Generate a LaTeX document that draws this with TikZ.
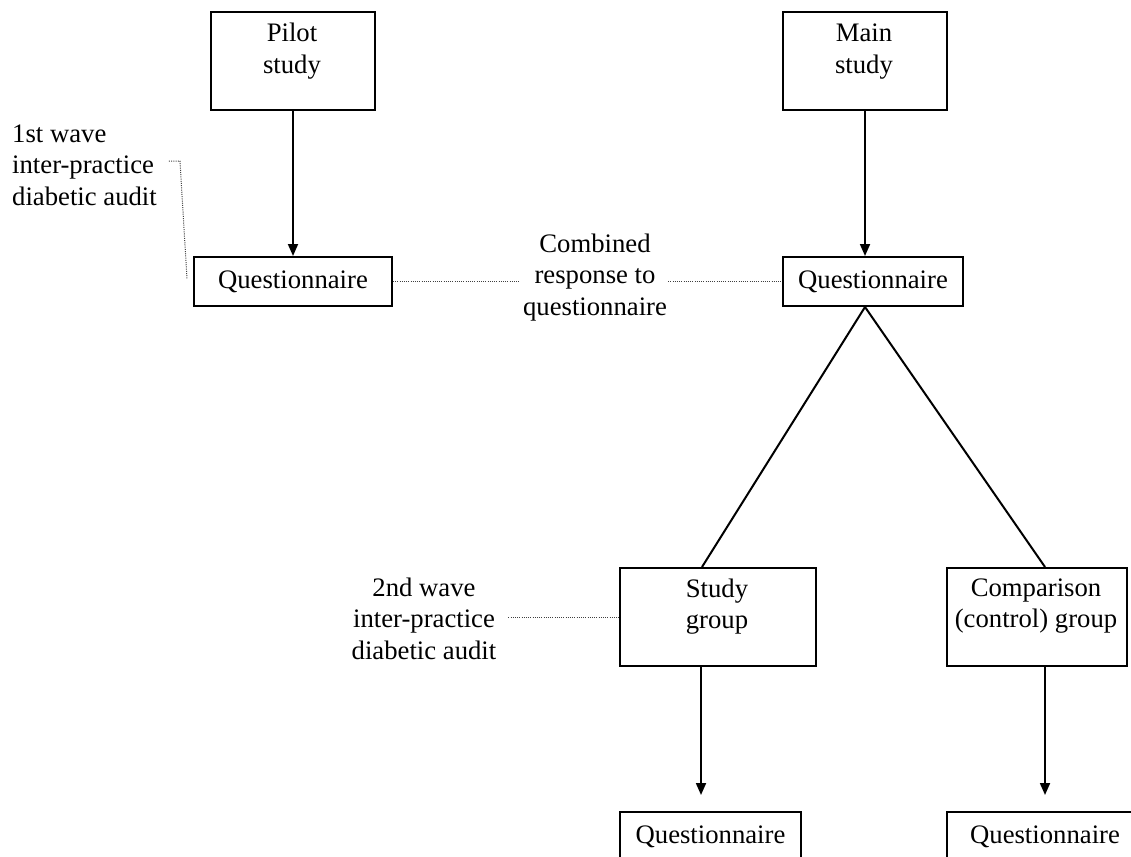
\documentclass[tikz,border=0pt]{standalone}
\usepackage{fontspec}
\setmainfont{Liberation Serif}
\usetikzlibrary{arrows.meta,calc}
\newcommand\diafont{\fontsize{26.7pt}{31.7pt}\selectfont}
\begin{document}
\begin{tikzpicture}[x=1pt,y=-1pt,
  box/.style={draw, line width=2pt, inner sep=0pt, anchor=north west, font=\diafont},
  lbl/.style={font=\diafont, inner sep=0pt, align=center},
  arr/.style={line width=1.8pt, -{Triangle[width=10pt,length=12pt]}},
  link/.style={line width=2pt},
  dots/.style={line width=1pt, black!75, dash pattern=on 1pt off 1.2pt}]
\useasboundingbox (0,0) rectangle (1131,856);
\clip (0,0) rectangle (1131,856);
\fill[white] (0,0) rectangle (1131,856);

% boxes (multi-line texts anchored at the baseline of their last line)
\node[box, minimum width=164pt, minimum height=98pt] (pilot) at (210,11) {};
\node[lbl, anchor=base] (pilotT) at (292,73.7) {Pilot\\study};
\node[box, minimum width=164pt, minimum height=98pt] (main) at (782,11) {};
\node[lbl, anchor=base] (mainT) at (864,73.7) {Main\\study};

\node[box, minimum width=198pt, minimum height=49pt] (q1) at (193,256) {Questionnaire};
\node[box, minimum width=180pt, minimum height=49pt] (q2) at (782,256) {Questionnaire};

\node[box, minimum width=196pt, minimum height=98pt] (sg) at (619,567) {};
\node[lbl, anchor=base] (sgT) at (717,628.7) {Study\\group};
\node[box, minimum width=180pt, minimum height=98pt] (cg) at (946,567) {};
\node[lbl, anchor=base] (cgT) at (1036,627.7) {Comparison\\(control) group};

\node[box, minimum width=181pt, minimum height=49pt] (q3) at (619,811) {Questionnaire};
\node[box, minimum width=196pt, minimum height=49pt] (q4) at (946,811) {Questionnaire};

% labels
\node[lbl, align=left, anchor=base west] (lab1) at (12,205.4) {1st wave\\inter-practice\\diabetic audit};
\node[lbl, anchor=base] (comb) at (595,315.4) {Combined\\response to\\questionnaire};
\node[lbl, anchor=base] (lab2) at (424,659.4) {2nd wave\\inter-practice\\diabetic audit};

% connectors
\draw[arr] (pilot.south) -- (q1.north);
\draw[arr] (main.south) -- (main.south |- q2.north);
\coordinate (apex) at (main.south |- q2.south);
\draw[link] (apex) -- ($(sg.north)+(-16,0)$);
\draw[link] (apex) -- ($(cg.north)+(8,0)$);
\coordinate (sgout) at ($(sg.south)+(-17,0)$);
\draw[arr, shorten >=16pt] (sgout) -- (sgout |- q3.north);
\coordinate (cgout) at ($(cg.south)+(8,0)$);
\draw[arr, shorten >=16pt] (cgout) -- (cgout |- q4.north);

% dotted links
\draw[dots] ($(lab1.east)+(12,-4)$) -- ($(lab1.east)+(23,-4)$) -- ($(q1.west)+(-6,-3)$);
\draw[dots] (q1.east) -- ($(q1.east -| comb.west)+(-3,0)$);
\draw[dots] ($(q2.west -| comb.east)+(1,0)$) -- (q2.west);
\draw[dots] ($(sg.west -| lab2.east)+(12,0)$) -- (sg.west);
\end{tikzpicture}
\end{document}
